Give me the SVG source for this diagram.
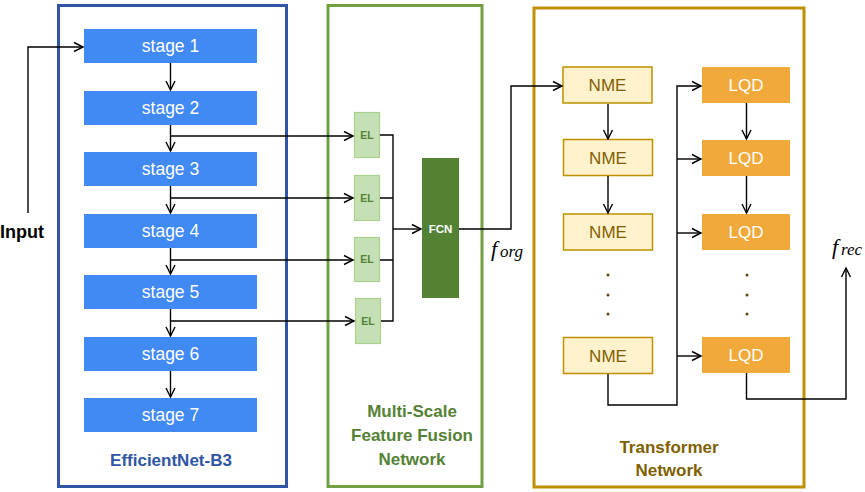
<svg xmlns="http://www.w3.org/2000/svg" width="865" height="492" viewBox="0 0 865 492">
<defs>
<marker id="a" markerWidth="12" markerHeight="12" refX="10" refY="6" orient="auto" markerUnits="userSpaceOnUse"><path d="M1,1.5 L10,6 L1,10.5" fill="none" stroke="#000" stroke-width="1.4"/></marker>
<style>
.stage{fill:#4189F3}
.st{font-family:"Liberation Sans",Arial,sans-serif;font-size:17.5px;fill:#fff;text-anchor:middle}
.el{fill:#C5E0B4;stroke:#A9D18E;stroke-width:1.2}
.elt{font-family:"Liberation Sans",Arial,sans-serif;font-size:10.5px;font-weight:bold;fill:#548235;text-anchor:middle}
.nme{fill:#FFF2CC;stroke:#BF9000;stroke-width:1.5}
.nmet{font-family:"Liberation Sans",Arial,sans-serif;font-size:17px;fill:#7F6000;text-anchor:middle}
.lqd{fill:#F2A93B}
.lqdt{font-family:"Liberation Sans",Arial,sans-serif;font-size:17px;fill:#fff;text-anchor:middle}
.lbl{font-family:"Liberation Sans",Arial,sans-serif;font-size:17px;font-weight:bold;text-anchor:middle}
.c{fill:none;stroke:#000;stroke-width:1.4}
.m{font-family:"Liberation Serif","Times New Roman",serif;font-style:italic;fill:#000}
</style>
</defs>
<rect width="865" height="492" fill="#fff"/>
<g id="efficientnet">
<rect x="58.5" y="5.5" width="228" height="481" fill="none" stroke="#2F55A4" stroke-width="3"/>
<text class="lbl" x="171" y="466" fill="#2F55A4">EfficientNet-B3</text>
</g>
<g id="msff">
<rect x="328" y="5.5" width="154" height="481" fill="none" stroke="#70A043" stroke-width="3"/>
<text class="lbl" x="412" y="417" fill="#548235">Multi-Scale</text>
<text class="lbl" x="412" y="441" fill="#548235">Feature Fusion</text>
<text class="lbl" x="412" y="465" fill="#548235">Network</text>
</g>
<g id="transformer">
<rect x="534" y="8" width="270" height="479" fill="none" stroke="#BF9000" stroke-width="3"/>
<text class="lbl" x="669" y="453" fill="#7F6000">Transformer</text>
<text class="lbl" x="669" y="476" fill="#7F6000">Network</text>
</g>
<g id="input"><text class="lbl" x="22" y="238" fill="#000" style="font-size:18px">Input</text></g>
<g id="stage1"><rect class="stage" x="84" y="29" width="173" height="34"/><text class="st" x="170.5" y="52">stage 1</text></g>
<g id="stage2"><rect class="stage" x="84" y="91" width="173" height="34"/><text class="st" x="170.5" y="114">stage 2</text></g>
<g id="stage3"><rect class="stage" x="84" y="152" width="173" height="34"/><text class="st" x="170.5" y="175">stage 3</text></g>
<g id="stage4"><rect class="stage" x="84" y="214" width="173" height="34"/><text class="st" x="170.5" y="237">stage 4</text></g>
<g id="stage5"><rect class="stage" x="84" y="275" width="173" height="34"/><text class="st" x="170.5" y="298">stage 5</text></g>
<g id="stage6"><rect class="stage" x="84" y="337" width="173" height="34"/><text class="st" x="170.5" y="360">stage 6</text></g>
<g id="stage7"><rect class="stage" x="84" y="398" width="173" height="34"/><text class="st" x="170.5" y="421">stage 7</text></g>
<g id="el1"><rect class="el" x="354.5" y="112.5" width="25" height="45"/><text class="elt" x="367" y="139">EL</text></g>
<g id="el2"><rect class="el" x="354.5" y="175.5" width="25" height="45"/><text class="elt" x="367" y="202">EL</text></g>
<g id="el3"><rect class="el" x="354.5" y="237.5" width="25" height="44"/><text class="elt" x="367" y="263">EL</text></g>
<g id="el4"><rect class="el" x="355.5" y="298.5" width="25" height="45"/><text class="elt" x="368" y="325">EL</text></g>
<g id="fcn"><rect x="422" y="158" width="37" height="140" fill="#548235"/><text class="elt" x="440.5" y="233" style="fill:#fff;font-size:11.5px">FCN</text></g>
<g id="forg"><text class="m" x="491" y="256" font-size="22">f</text><text class="m" x="500" y="257" font-size="17">org</text></g>
<g id="nme1"><rect class="nme" x="563" y="67" width="89" height="36"/><text class="nmet" x="607.5" y="91">NME</text></g>
<g id="nme2"><rect class="nme" x="563.5" y="139.5" width="89" height="36"/><text class="nmet" x="608" y="164">NME</text></g>
<g id="nme3"><rect class="nme" x="563.5" y="214" width="89" height="36"/><text class="nmet" x="608" y="238">NME</text></g>
<g id="nme4"><rect class="nme" x="563.5" y="337.5" width="89" height="36"/><text class="nmet" x="608" y="362">NME</text></g>
<g id="lqd1"><rect class="lqd" x="702" y="67" width="88" height="36"/><text class="lqdt" x="746" y="91">LQD</text></g>
<g id="lqd2"><rect class="lqd" x="702" y="140" width="88" height="36"/><text class="lqdt" x="746" y="164">LQD</text></g>
<g id="lqd3"><rect class="lqd" x="702" y="214" width="88" height="36"/><text class="lqdt" x="746" y="238">LQD</text></g>
<g id="lqd4"><rect class="lqd" x="702" y="337" width="88" height="36"/><text class="lqdt" x="746" y="361">LQD</text></g>
<g id="dots" fill="#5a4a10">
<circle cx="608" cy="275" r="1.5"/><circle cx="608" cy="295" r="1.5"/><circle cx="608" cy="314" r="1.5"/>
<circle cx="747" cy="275" r="1.5"/><circle cx="747" cy="295" r="1.5"/><circle cx="747" cy="314" r="1.5"/>
</g>
<g id="frec"><text class="m" x="832" y="254" font-size="22">f</text><text class="m" x="841" y="255" font-size="17">rec</text></g>
<g id="connectors" class="c">
<path class="c" d="M28,213 V47 H83" marker-end="url(#a)"/>
<path class="c" d="M170.5,63 V90" marker-end="url(#a)"/>
<path class="c" d="M170.5,125 V151" marker-end="url(#a)"/>
<path class="c" d="M170.5,186 V213" marker-end="url(#a)"/>
<path class="c" d="M170.5,248 V274" marker-end="url(#a)"/>
<path class="c" d="M170.5,309 V336" marker-end="url(#a)"/>
<path class="c" d="M170.5,371 V397" marker-end="url(#a)"/>
<path class="c" d="M170.5,136 H353" marker-end="url(#a)"/>
<path class="c" d="M170.5,198 H353" marker-end="url(#a)"/>
<path class="c" d="M170.5,260 H353" marker-end="url(#a)"/>
<path class="c" d="M170.5,321 H354" marker-end="url(#a)"/>
<path class="c" d="M380,135 H393 V321 H381 M380,198 H393 M380,260 H393"/>
<path class="c" d="M393,229 H421" marker-end="url(#a)"/>
<path class="c" d="M459,229 H511 V86 H562" marker-end="url(#a)"/>
<path class="c" d="M608,104 V139" marker-end="url(#a)"/>
<path class="c" d="M608,176 V213" marker-end="url(#a)"/>
<path class="c" d="M608,374 V405 H677 V86 H701" marker-end="url(#a)"/>
<path class="c" d="M677,159 H701" marker-end="url(#a)"/>
<path class="c" d="M677,233 H701" marker-end="url(#a)"/>
<path class="c" d="M677,356 H701" marker-end="url(#a)"/>
<path class="c" d="M746.5,103 V139" marker-end="url(#a)"/>
<path class="c" d="M746.5,176 V213" marker-end="url(#a)"/>
<path class="c" d="M746.5,373 V399 H846 V268" marker-end="url(#a)"/>
</g>
</svg>
